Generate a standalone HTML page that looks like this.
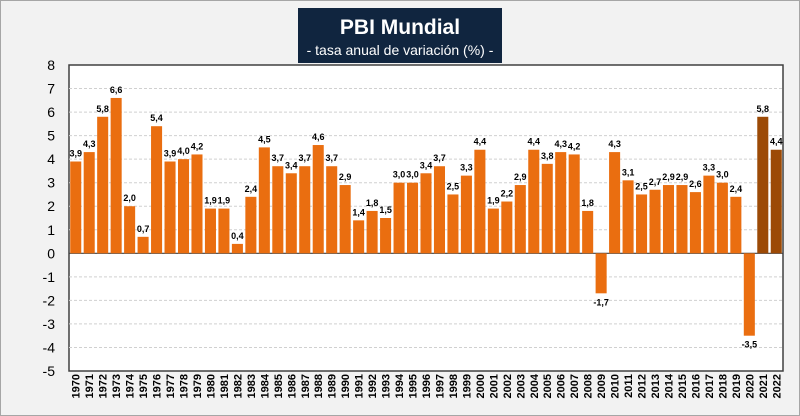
<!DOCTYPE html>
<html><head><meta charset="utf-8"><style>
body{margin:0;background:#fff;}
svg{display:block;font-family:"Liberation Sans",sans-serif;}
</style></head><body>
<svg id="c" width="800" height="416">
<rect x="0.5" y="0.5" width="799" height="415" fill="#f2f2f2" stroke="#a6a6a6"/>
<rect x="69" y="65" width="714" height="306" fill="#fff" stroke="#404040" stroke-width="1.5"/>
<g id="grid"></g><g id="bars"></g><g id="labels"></g><g id="yt"></g><g id="xt"></g>
<rect x="298" y="8" width="204" height="55" fill="#10253f"/>
<text x="400" y="34" text-anchor="middle" fill="#fff" font-size="21" font-weight="bold">PBI Mundial</text>
<text x="400" y="55" text-anchor="middle" fill="#fff" font-size="14">- tasa anual de variación (%) -</text>
</svg>
<script>
const years=[];for(let y=1970;y<=2022;y++)years.push(String(y));
const values=[3.9,4.3,5.8,6.6,2.0,0.7,5.4,3.9,4.0,4.2,1.9,1.9,0.4,2.4,4.5,3.7,3.4,3.7,4.6,3.7,2.9,1.4,1.8,1.5,3.0,3.0,3.4,3.7,2.5,3.3,4.4,1.9,2.2,2.9,4.4,3.8,4.3,4.2,1.8,-1.7,4.3,3.1,2.5,2.7,2.9,2.9,2.6,3.3,3.0,2.4,-3.5,5.8,4.4];
const projected=["2021","2022"];
const yTicks=[8,7,6,5,4,3,2,1,0,-1,-2,-3,-4,-5];
const NS="http://www.w3.org/2000/svg";
const L=69,R=783,T=65,B=371,ymax=8,ymin=-5;
const y=v=>T+(ymax-v)*(B-T)/(ymax-ymin);
const slot=(R-L)/years.length;
const x=i=>L+i*slot;
function mk(t,a,p,txt){const e=document.createElementNS(NS,t);for(const k in a)e.setAttribute(k,a[k]);if(txt!==undefined)e.textContent=txt;document.getElementById(p).appendChild(e);return e;}
yTicks.forEach(t=>{
 if(t<ymax&&t>ymin){const g=mk('line',{x1:L,x2:R,y1:y(t),y2:y(t),stroke:t===0?'#404040':'#d0d0d0','stroke-width':t===0?1.2:1,'stroke-dasharray':t===0?'':'3,2'},'grid');
 
 }
 const e=mk('text',{x:55,y:y(t)+5,'text-anchor':'end','font-size':14,fill:'#000'},'yt',String(t));
 
 
});
values.forEach((v,i)=>{
 const proj=projected.includes(years[i]);
 const bw=slot*0.82;
 const r=mk('rect',{x:x(i)+(slot-bw)/2,y:Math.min(y(v),y(0)),width:bw,height:Math.abs(y(v)-y(0)),fill:proj?'#9c4a06':'#ea6e10'},'bars');
 
 
 const ly=v>=0?y(v)-5:y(v)+12;
 const t=mk('text',{x:x(i)+slot/2,y:ly,'text-anchor':'middle','font-size':9,'font-weight':'bold',fill:'#000'},'labels',v.toFixed(1).replace('.',','));
 
 
 const cx=x(i)+slot/2+4;
 const xt=mk('text',{x:cx,y:374,'text-anchor':'end','font-size':11,'font-weight':'bold',fill:'#000',transform:`rotate(-90 ${cx} 374)`},'xt',years[i]);
 
 
});
</script>
</body></html>
